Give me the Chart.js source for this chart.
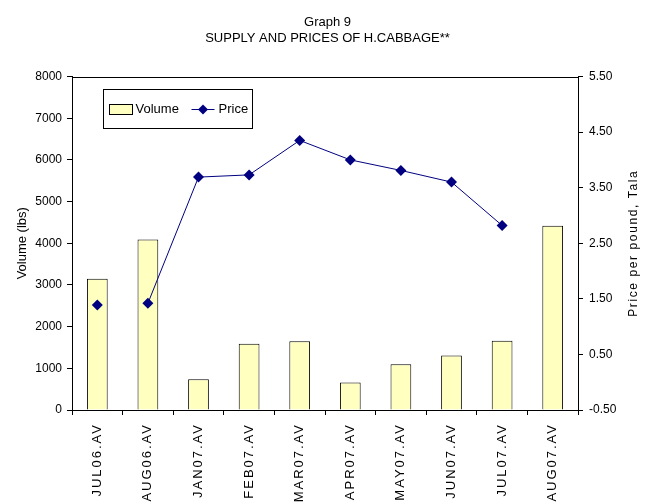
<!DOCTYPE html>
<html>
<head>
<meta charset="utf-8">
<script src="https://cdn.jsdelivr.net/npm/chart.js@4/dist/chart.umd.min.js"></script>
<style>
  html, body { margin: 0; padding: 0; background: #fff; }
  #wrap { width: 655px; height: 504px; position: relative; }
</style>
</head>
<body>
<div id="wrap"><canvas id="cabbageChart"></canvas></div>
<script>
const months = ['JUL06.AV', 'AUG06.AV', 'JAN07.AV', 'FEB07.AV', 'MAR07.AV',
  'APR07.AV', 'MAY07.AV', 'JUN07.AV', 'JUL07.AV', 'AUG07.AV'];
const volume = [3150, 4090, 740, 1590, 1650, 660, 1100, 1310, 1660, 4420];
const price = [1.39, 1.42, 3.69, 3.73, 4.35, 4.00, 3.81, 3.60, 2.82, null];
const priceTicks = [-0.5, 0.5, 1.5, 2.5, 3.5, 4.5, 5.5];

const FONT = '"Liberation Sans", Arial, sans-serif';
const NAVY = '#000080';
const BAR_FILL = '#FFFFC0';

// frame line on top of the plot, legend box inside it, right axis title
const decorations = {
  id: 'decorations',
  afterDraw(chart) {
    const ctx = chart.ctx;
    const a = chart.chartArea;
    ctx.save();
    ctx.strokeStyle = '#000';
    ctx.lineWidth = 1;
    ctx.beginPath();
    ctx.moveTo(a.left, Math.round(a.top) + 0.5);
    ctx.lineTo(a.right, Math.round(a.top) + 0.5);
    ctx.stroke();

    // legend
    const lx = Math.round(a.left) + 31.5, ly = Math.round(a.top) + 12.5;
    ctx.fillStyle = '#fff';
    ctx.fillRect(lx, ly, 149, 39);
    ctx.strokeRect(lx, ly, 149, 39);
    const cy = ly + 20;
    ctx.fillStyle = BAR_FILL;
    ctx.fillRect(lx + 6, cy - 5, 23, 10);
    ctx.strokeRect(lx + 6, cy - 5, 23, 10);
    ctx.font = '13px ' + FONT;
    ctx.fillStyle = '#000';
    ctx.textBaseline = 'middle';
    ctx.fillText(chart.data.datasets[0].label, lx + 32, cy);
    ctx.strokeStyle = NAVY;
    ctx.beginPath();
    ctx.moveTo(lx + 88, cy);
    ctx.lineTo(lx + 111, cy);
    ctx.stroke();
    ctx.fillStyle = NAVY;
    ctx.beginPath();
    ctx.moveTo(lx + 99.5 - 5, cy);
    ctx.lineTo(lx + 99.5, cy - 5);
    ctx.lineTo(lx + 99.5 + 5, cy);
    ctx.lineTo(lx + 99.5, cy + 5);
    ctx.closePath();
    ctx.fill();
    ctx.fillStyle = '#000';
    ctx.fillText(chart.data.datasets[1].label, lx + 115, cy);

    // right axis title, reading bottom to top
    ctx.translate(a.right + 56, (a.top + a.bottom) / 2);
    ctx.rotate(-Math.PI / 2);
    ctx.font = '12px ' + FONT;
    ctx.letterSpacing = '1.6px';
    ctx.textAlign = 'center';
    ctx.fillText('Price per pound, Tala', 0, 0);
    ctx.restore();
  }
};

const ctx = document.getElementById('cabbageChart').getContext('2d');
const chart = new Chart(ctx, {
  type: 'bar',
  data: {
    labels: months,
    datasets: [
      {
        label: 'Volume',
        data: volume,
        backgroundColor: BAR_FILL,
        borderColor: '#000',
        borderWidth: 1,
        borderSkipped: 'bottom',
        categoryPercentage: 1,
        barPercentage: 0.41,
        yAxisID: 'y',
        order: 1,
      },
      {
        type: 'line',
        label: 'Price',
        data: price,
        borderColor: NAVY,
        borderWidth: 1,
        pointStyle: 'rectRot',
        pointRadius: 5.5,
        pointBackgroundColor: NAVY,
        pointBorderColor: NAVY,
        pointBorderWidth: 0,
        spanGaps: false,
        yAxisID: 'y1',
        order: 0,
        segment: {
          borderColor: c => c.p0DataIndex === 0 ? 'rgba(0,0,0,0)' : NAVY,
        },
      },
    ],
  },
  options: {
    responsive: true,
    maintainAspectRatio: false,
    animation: false,
    layout: { padding: 0 },
    plugins: {
      legend: { display: false },
      tooltip: { enabled: false },
      title: {
        display: true,
        text: ['Graph 9', 'SUPPLY AND PRICES OF H.CABBAGE**'],
        color: '#000',
        font: { family: FONT, size: 13, weight: 'normal', lineHeight: 1.25 },
        padding: { top: 14, bottom: 30 },
      },
    },
    scales: {
      x: {
        grid: { display: true, drawOnChartArea: false, color: '#000', tickLength: 5, offset: true },
        border: { color: '#000', width: 1 },
        ticks: {
          color: '#000',
          font: { family: FONT, size: 13 },
          minRotation: 90,
          maxRotation: 90,
          padding: 8,
          autoSkip: false,
        },
        afterFit(scale) { scale.height = 94; },
        afterUpdate(scale) {
          if (scale._spaced) return;
          const orig = scale.drawLabels.bind(scale);
          scale.drawLabels = function (area) {
            this.ctx.save();
            this.ctx.letterSpacing = '2px';
            orig(area);
            this.ctx.restore();
          };
          scale._spaced = true;
        },
      },
      y: {
        position: 'left',
        min: 0,
        max: 8000,
        grid: { display: true, drawOnChartArea: false, color: '#000', tickLength: 5 },
        border: { color: '#000', width: 1 },
        ticks: {
          stepSize: 1000,
          color: '#000',
          font: { family: FONT, size: 12 },
          padding: 5,
          callback: v => String(v),
        },
        title: {
          display: true,
          text: 'Volume (lbs)',
          color: '#000',
          font: { family: FONT, size: 13 },
          padding: { top: 15, bottom: 0 },
        },
        afterFit(scale) { scale.width = 72; },
      },
      y1: {
        position: 'right',
        min: -0.5,
        max: 5.5,
        grid: { display: true, drawOnChartArea: false, color: '#000', tickLength: 5 },
        border: { color: '#000', width: 1 },
        ticks: {
          color: '#000',
          font: { family: FONT, size: 12 },
          padding: 6,
          callback: v => Number(v).toFixed(2),
        },
        afterBuildTicks(scale) { scale.ticks = priceTicks.map(v => ({ value: v })); },
        afterFit(scale) { scale.width = 77; },
      },
    },
  },
  plugins: [decorations],
});
</script>
</body>
</html>
